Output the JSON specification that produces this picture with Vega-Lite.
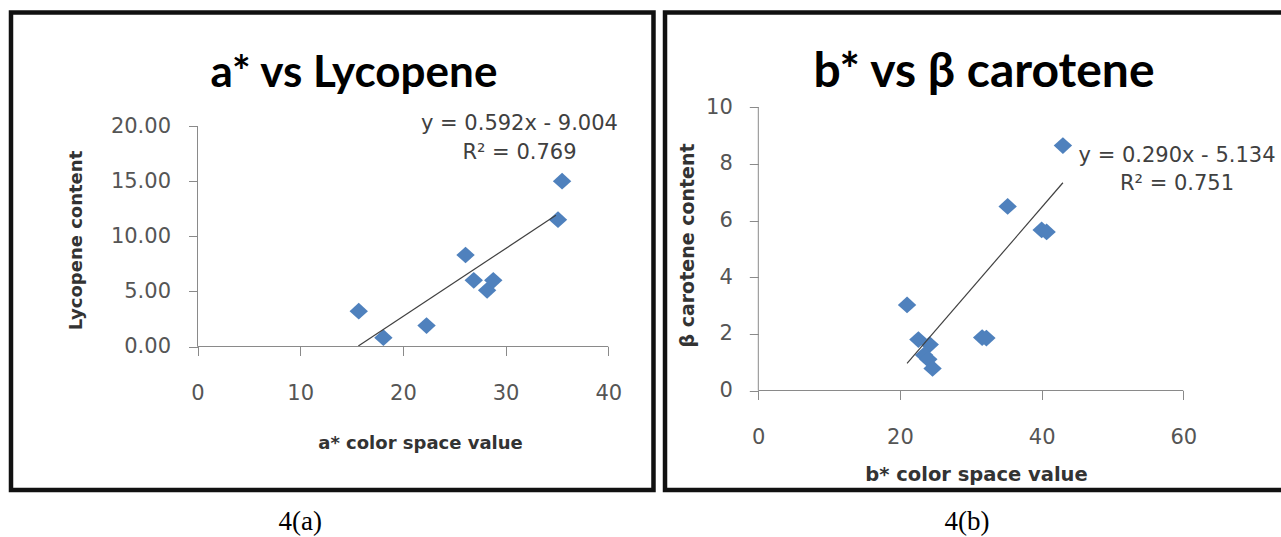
{
  "$schema": "https://vega.github.io/schema/vega-lite/v6.json",
  "width": 1281,
  "height": 537,
  "padding": 0,
  "autosize": {"type": "none"},
  "background": "white",
  "config": {
    "view": {"stroke": null},
    "axis": {
      "grid": false,
      "domain": false,
      "tickColor": "#8a8a8a",
      "tickSize": 9,
      "tickWidth": 1,
      "labelColor": "#555555",
      "labelFont": "DejaVu Sans",
      "labelFontSize": 21,
      "labelOverlap": false,
      "labelFlush": false,
      "titleFont": "DejaVu Sans",
      "titleFontWeight": "bold",
      "titleColor": "#333333"
    }
  },
  "datasets": {
    "lyc": [
      {"astar": 15.7, "lycopene": 3.2},
      {"astar": 18.1, "lycopene": 0.8},
      {"astar": 22.3, "lycopene": 1.9},
      {"astar": 26.1, "lycopene": 8.3},
      {"astar": 26.9, "lycopene": 6.0},
      {"astar": 28.2, "lycopene": 5.1},
      {"astar": 28.8, "lycopene": 6.0},
      {"astar": 35.1, "lycopene": 11.5},
      {"astar": 35.5, "lycopene": 15.0}
    ],
    "lycTrend": [
      {"astar": 15.66, "lycopene": 0.05},
      {"astar": 34.9, "lycopene": 11.9}
    ],
    "car": [
      {"bstar": 43.0, "carotene": 8.65},
      {"bstar": 35.2, "carotene": 6.5},
      {"bstar": 40.0, "carotene": 5.67},
      {"bstar": 40.7, "carotene": 5.6},
      {"bstar": 21.0, "carotene": 3.02},
      {"bstar": 31.6, "carotene": 1.87},
      {"bstar": 32.2, "carotene": 1.85},
      {"bstar": 22.6, "carotene": 1.8},
      {"bstar": 24.2, "carotene": 1.62},
      {"bstar": 23.4, "carotene": 1.25},
      {"bstar": 24.0, "carotene": 1.1},
      {"bstar": 24.6, "carotene": 0.78}
    ],
    "carTrend": [
      {"bstar": 21.0, "carotene": 0.956},
      {"bstar": 43.0, "carotene": 7.336}
    ]
  },
  "layer": [
    {
      "layer": [
        {
          "data": {"name": "lyc"},
          "mark": {"type": "point", "shape": "M-1.1,0L0,-1L1.1,0L0,1Z", "filled": true, "color": "#4F81BD", "opacity": 1, "size": 280},
          "encoding": {
            "x": {
              "field": "astar", "type": "quantitative",
              "scale": {"domain": [-19.231, 105.502], "nice": false, "zero": false},
              "axis": {"orient": "bottom", "offset": -190.5, "values": [0, 10, 20, 30, 40], "labelPadding": 27,
                "title": "a* color space value", "titleX": 420, "titleY": 96.5, "titleBaseline": "middle", "titleAlign": "center", "titleFontSize": 18}
            },
            "y": {
              "field": "lycopene", "type": "quantitative",
              "scale": {"domain": [-17.279, 31.429], "nice": false, "zero": false},
              "axis": {"orient": "left", "offset": -197.5, "values": [0, 5, 10, 15, 20], "format": ".2f", "labelPadding": 18,
                "title": "Lycopene content", "titleX": -121, "titleY": 240, "titleAngle": -90, "titleBaseline": "middle", "titleAlign": "center", "titleFontSize": 18}
            }
          }
        },
        {
          "data": {"name": "lycTrend"},
          "mark": {"type": "line", "color": "#404040", "strokeWidth": 1.2},
          "encoding": {
            "x": {"field": "astar", "type": "quantitative"},
            "y": {"field": "lycopene", "type": "quantitative"}
          }
        },
        {
          "data": {"values": [{}]},
          "mark": {"type": "rule", "color": "#8a8a8a", "strokeWidth": 1},
          "encoding": {"x": {"datum": 0}, "x2": {"datum": 40}, "y": {"datum": 0}}
        },
        {
          "data": {"values": [{}]},
          "mark": {"type": "rule", "color": "#8a8a8a", "strokeWidth": 1},
          "encoding": {"x": {"datum": 0}, "y": {"datum": 0}, "y2": {"datum": 20}}
        },
        {
          "data": {"values": [{}]},
          "mark": {"type": "rect", "fillOpacity": 0, "stroke": "#111111", "strokeWidth": 4.5},
          "encoding": {"x": {"datum": -18.16}, "x2": {"datum": 44.4}, "y": {"datum": 30.29}, "y2": {"datum": -13.02}}
        },
        {
          "data": {"values": [{}]},
          "mark": {"type": "text", "text": "a* vs Lycopene", "font": "Lato", "fontWeight": "bold", "fontSize": 44, "color": "#000000", "align": "center", "baseline": "alphabetic"},
          "encoding": {"x": {"datum": 15.24}, "y": {"datum": 23.5}}
        },
        {
          "data": {"values": [{}]},
          "mark": {"type": "text", "text": ["y = 0.592x - 9.004", "R² = 0.769"], "font": "DejaVu Sans", "fontSize": 21, "lineHeight": 29, "color": "#404040", "align": "center", "baseline": "middle"},
          "encoding": {"x": {"datum": 31.35}, "y": {"datum": 20.14}}
        },
        {
          "data": {"values": [{}]},
          "mark": {"type": "text", "text": "4(a)", "font": "Liberation Serif", "fontSize": 27, "color": "#000000", "align": "center", "baseline": "middle"},
          "encoding": {"x": {"datum": 10.0}, "y": {"datum": -15.92}}
        }
      ]
    },
    {
      "layer": [
        {
          "data": {"name": "car"},
          "mark": {"type": "point", "shape": "M-1.1,0L0,-1L1.1,0L0,1Z", "filled": true, "color": "#4F81BD", "opacity": 1, "size": 280},
          "encoding": {
            "x": {
              "field": "bstar", "type": "quantitative",
              "scale": {"domain": [-107.05, 73.79], "nice": false, "zero": false},
              "axis": {"orient": "bottom", "offset": -146.5, "values": [0, 20, 40, 60], "labelPadding": 27,
                "title": "b* color space value", "titleX": 976, "titleY": 83.5, "titleBaseline": "middle", "titleAlign": "center", "titleFontSize": 19.5}
            },
            "y": {
              "field": "carotene", "type": "quantitative",
              "scale": {"domain": [-5.173, 13.789], "nice": false, "zero": false},
              "axis": {"orient": "left", "offset": -758.3, "values": [0, 2, 4, 6, 8, 10], "format": "d", "labelPadding": 17,
                "title": "β carotene content", "titleX": -71.3, "titleY": 245, "titleAngle": -90, "titleBaseline": "middle", "titleAlign": "center", "titleFontSize": 19}
            }
          }
        },
        {
          "data": {"name": "carTrend"},
          "mark": {"type": "line", "color": "#404040", "strokeWidth": 1.2},
          "encoding": {
            "x": {"field": "bstar", "type": "quantitative"},
            "y": {"field": "carotene", "type": "quantitative"}
          }
        },
        {
          "data": {"values": [{}]},
          "mark": {"type": "rule", "color": "#8a8a8a", "strokeWidth": 1},
          "encoding": {"x": {"datum": 0}, "x2": {"datum": 60}, "y": {"datum": 0}}
        },
        {
          "data": {"values": [{}]},
          "mark": {"type": "rule", "color": "#8a8a8a", "strokeWidth": 1},
          "encoding": {"x": {"datum": 0}, "y": {"datum": 0}, "y2": {"datum": 10}}
        },
        {
          "data": {"values": [{}]},
          "mark": {"type": "rect", "fillOpacity": 0, "stroke": "#111111", "strokeWidth": 4.5},
          "encoding": {"x": {"datum": -13.17}, "x2": {"datum": 75.8}, "y": {"datum": 13.35}, "y2": {"datum": -3.513}}
        },
        {
          "data": {"values": [{}]},
          "mark": {"type": "text", "text": "b* vs β carotene", "font": "Lato", "fontWeight": "bold", "fontSize": 48, "color": "#000000", "align": "center", "baseline": "alphabetic"},
          "encoding": {"x": {"datum": 31.86}, "y": {"datum": 10.7}}
        },
        {
          "data": {"values": [{}]},
          "mark": {"type": "text", "text": ["y = 0.290x - 5.134", "R² = 0.751"], "font": "DejaVu Sans", "fontSize": 21, "lineHeight": 28, "color": "#404040", "align": "center", "baseline": "middle"},
          "encoding": {"x": {"datum": 59.11}, "y": {"datum": 8.28}}
        },
        {
          "data": {"values": [{}]},
          "mark": {"type": "text", "text": "4(b)", "font": "Liberation Serif", "fontSize": 27, "color": "#000000", "align": "center", "baseline": "middle"},
          "encoding": {"x": {"datum": 29.46}, "y": {"datum": -4.64}}
        }
      ]
    }
  ],
  "resolve": {
    "scale": {"x": "independent", "y": "independent"},
    "axis": {"x": "independent", "y": "independent"}
  }
}
